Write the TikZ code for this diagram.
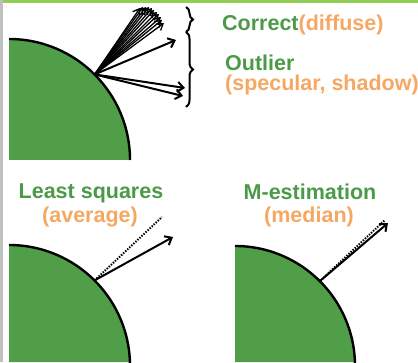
\documentclass[tikz,border=0pt]{standalone}
\usepackage{fontspec}
\setmainfont{Liberation Sans}
\usepackage{tikz}
\usepackage{xcolor}
\usetikzlibrary{arrows.meta, positioning, decorations.pathreplacing}
\definecolor{leafgreen}{RGB}{80,158,72}
\definecolor{textgreen}{RGB}{76,154,72}
\definecolor{softorange}{RGB}{246,168,98}
\definecolor{topline}{RGB}{146,206,84}
\definecolor{sideline}{RGB}{192,192,192}

\begin{document}
\begin{tikzpicture}[
  x=1pt, y=1pt,
  disc/.style={fill=leafgreen},
  rim/.style={draw=black, line width=2.4pt},
  ray/.style={-{Straight Barb[length=6pt,width=10pt]}, line width=2pt},
  thinray/.style={-{Straight Barb[length=6pt,width=8pt]}, line width=1.3pt},
  mean/.style={dash pattern=on 1.4pt off 1.4pt, line width=2pt},
  bracket/.style={decorate, decoration={brace, amplitude=7pt}, line width=2pt},
  lbl/.style={font=\fontsize{21.5}{24}\selectfont\bfseries, inner sep=0pt}
]
\useasboundingbox (0,0) rectangle (418,362);
\fill[sideline] (0,0) rectangle (2.5,362);
\fill[topline] (2.5,359) rectangle (418,362);

% top: all measurements
\fill[disc] (9,323) arc[start angle=90, end angle=0, radius=121] -- (9,202) -- cycle;
\draw[rim] (9,323) arc[start angle=90, end angle=0, radius=121];
\coordinate (p1) at (94.6,287.6);
\foreach \tx/\ty [count=\i] in {140/354, 143/355, 146/355, 149/355, 152/354, 154/352, 157/350, 159/348, 161/345, 162/342, 164/339}
  \coordinate (c\i) at (\tx,\ty);
\foreach \i in {1,...,11}
  \draw[thinray] (p1) -- (c\i);
\coordinate (o1) at (176,322);
\coordinate (o2) at (185,274);
\coordinate (o3) at (183,266);
\draw[ray] (p1) -- (o1);
\draw[ray] (p1) -- (o2);
\draw[ray] (p1) -- (o3);

\coordinate (b1) at (186,355);
\coordinate (b2) at (186,330);
\coordinate (b3) at (186,255);
\draw[bracket] (b1) -- (b2);
\draw[bracket] (b2) -- (b3);

\node[lbl, anchor=west] (correct) at (222,337) {\textcolor{textgreen}{Correct}\textcolor{softorange}{(diffuse)}};
\node[lbl, anchor=west, text=textgreen] (outlier) at (225,299) {Outlier};
\node[lbl, anchor=west, text=softorange] (kinds) at (225,277) {(specular, shadow)};

% bottom left: least squares
\fill[disc] (9,117) arc[start angle=90, end angle=0, radius=121] -- (130,0) -- (9,0) -- cycle;
\draw[rim] (9,117) arc[start angle=90, end angle=0, radius=121] -- (130,0);
\coordinate (p2) at (94.6,81.6);
\coordinate (ls) at (173,125);
\coordinate (lsm) at (162,145);
\draw[mean] (p2) -- (lsm);
\draw[ray] (p2) -- (ls);
\node[lbl, text=textgreen] (lsq) at (91,169) {Least squares};
\node[lbl, text=softorange] (avg) at (90,145) {(average)};

% bottom right: m-estimation
\fill[disc] (235,116) arc[start angle=90, end angle=0, radius=120] -- (355,0) -- (235,0) -- cycle;
\draw[rim] (235,116) arc[start angle=90, end angle=0, radius=120] -- (355,0);
\coordinate (p3) at (320,81);
\coordinate (me) at (388,139);
\coordinate (mem) at (385,142);
\draw[mean] (p3) -- (mem);
\draw[ray] (p3) -- (me);
\node[lbl, text=textgreen] (mest) at (310,170) {M-estimation};
\node[lbl, text=softorange] (med) at (309,145) {(median)};
\end{tikzpicture}
\end{document}
